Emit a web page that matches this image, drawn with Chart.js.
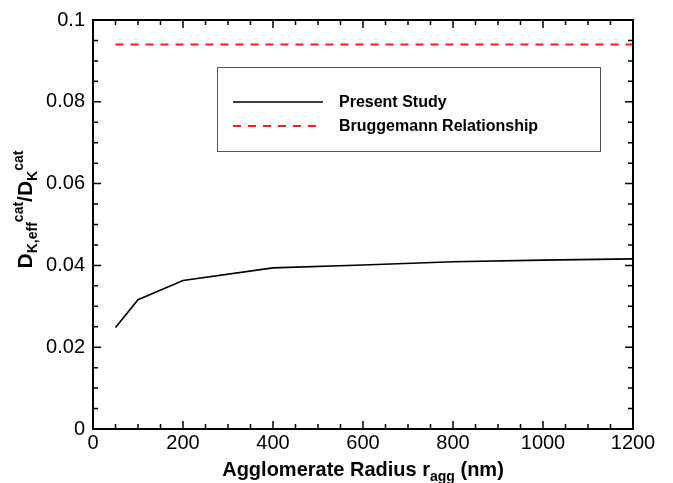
<!DOCTYPE html>
<html>
<head>
<meta charset="utf-8">
<script src="https://cdn.jsdelivr.net/npm/chart.js@4/dist/chart.umd.min.js"></script>
<style>
  html, body { margin: 0; padding: 0; background: #fff; }
  #wrap { width: 673px; height: 483px; }
</style>
</head>
<body>
<div id="wrap"><canvas id="chart" width="673" height="483"></canvas></div>
<script>
// values
const radius = [50, 100, 200, 400, 600, 800, 1000, 1200];
const presentStudy = [0.0248, 0.0316, 0.0363, 0.0394, 0.0401, 0.0409, 0.0413, 0.0416];
const bruggemannX = [50, 1200];
const bruggemannY = [0.094, 0.094];
const xTicks = [0, 200, 400, 600, 800, 1000, 1200];
const yTicks = [0, 0.02, 0.04, 0.06, 0.08, 0.1];

const FONT = 'Arial, "Liberation Sans", Helvetica, sans-serif';

const toPoints = (xs, ys) => xs.map((x, i) => ({ x: x, y: ys[i] }));

// draws text pieces with sub/superscripts, starting at (x, y) baseline
function drawRich(ctx, parts, x, y) {
  parts.forEach(p => {
    const size = p.s ? 14 : p.size;
    ctx.font = 'bold ' + size + 'px ' + FONT;
    const dy = p.s === 'sub' ? 5 : p.s === 'sup' ? -9 : 0;
    ctx.fillText(p.t, x, y + dy);
    x += ctx.measureText(p.t).width;
  });
}
function richWidth(ctx, parts) {
  let w = 0;
  parts.forEach(p => {
    ctx.font = 'bold ' + (p.s ? 14 : p.size) + 'px ' + FONT;
    w += ctx.measureText(p.t).width;
  });
  return w;
}

const framePlugin = {
  id: 'frame',
  afterDraw(chart) {
    const { ctx, chartArea: a, scales } = chart;
    const xs = scales.x, ys = scales.y;
    ctx.save();
    ctx.strokeStyle = '#000';

    // minor + major ticks pointing inwards on all four sides
    ctx.lineWidth = 1.5;
    ctx.beginPath();
    for (let v = 0; v <= 1200; v += 50) {
      const px = xs.getPixelForValue(v);
      const len = v % 200 === 0 ? 8 : 5;
      ctx.moveTo(px, a.bottom); ctx.lineTo(px, a.bottom - len);
      ctx.moveTo(px, a.top); ctx.lineTo(px, a.top + len);
    }
    for (let i = 0; i <= 20; i++) {
      const py = ys.getPixelForValue(i * 0.005);
      const len = i % 4 === 0 ? 8 : 5;
      ctx.moveTo(a.left, py); ctx.lineTo(a.left + len, py);
      ctx.moveTo(a.right, py); ctx.lineTo(a.right - len, py);
    }
    ctx.stroke();

    ctx.lineWidth = 2;
    ctx.strokeRect(a.left, a.top, a.right - a.left, a.bottom - a.top);

    // legend box
    ctx.lineWidth = 1;
    ctx.strokeStyle = '#555';
    ctx.strokeRect(217.5, 67.5, 383, 84);
    const rows = [102, 126];
    chart.data.datasets.forEach((ds, i) => {
      ctx.beginPath();
      ctx.strokeStyle = ds.borderColor;
      ctx.lineWidth = ds.borderWidth;
      ctx.setLineDash(ds.borderDash || []);
      ctx.moveTo(233, rows[i]); ctx.lineTo(323, rows[i]);
      ctx.stroke();
      ctx.setLineDash([]);
      ctx.fillStyle = '#000';
      ctx.font = 'bold 16px ' + FONT;
      ctx.textBaseline = 'middle';
      ctx.textAlign = 'left';
      ctx.fillText(ds.label, 339, rows[i] + 1);
    });

    // axis titles
    ctx.fillStyle = '#000';
    ctx.textBaseline = 'alphabetic';
    ctx.textAlign = 'left';
    const xTitle = [
      { t: 'Agglomerate Radius r', size: 20 },
      { t: 'agg', s: 'sub' },
      { t: ' (nm)', size: 20 }
    ];
    const xw = richWidth(ctx, xTitle);
    drawRich(ctx, xTitle, (a.left + a.right) / 2 - xw / 2, 476);

    const yTitle = [
      { t: 'D', size: 21 },
      { t: 'K,eff', s: 'sub' },
      { t: 'cat', s: 'sup' },
      { t: '/D', size: 21 },
      { t: 'K', s: 'sub' },
      { t: 'cat', s: 'sup' }
    ];
    const yw = richWidth(ctx, yTitle);
    ctx.translate(32, (a.top + a.bottom) / 2 - 15);
    ctx.rotate(-Math.PI / 2);
    drawRich(ctx, yTitle, -yw / 2, 0);
    ctx.restore();
  }
};

new Chart(document.getElementById('chart'), {
  type: 'scatter',
  data: {
    datasets: [
      {
        label: 'Present Study',
        data: toPoints(radius, presentStudy),
        showLine: true,
        borderColor: '#000',
        borderWidth: 1.6,
        pointRadius: 0,
        tension: 0
      },
      {
        label: 'Bruggemann Relationship',
        data: toPoints(bruggemannX, bruggemannY),
        showLine: true,
        borderColor: '#ff1a1a',
        borderWidth: 2,
        borderDash: [8, 7],
        pointRadius: 0
      }
    ]
  },
  options: {
    responsive: false,
    animation: false,
    layout: { padding: { top: 13, right: 40, left: 0, bottom: 0 } },
    plugins: {
      legend: { display: false },
      tooltip: { enabled: false }
    },
    scales: {
      x: {
        type: 'linear',
        min: 0,
        max: 1200,
        afterBuildTicks: s => { s.ticks = xTicks.map(v => ({ value: v })); },
        afterFit: s => { s.height = 54; },
        grid: { display: false, drawTicks: false },
        border: { display: false },
        ticks: {
          padding: 2,
          color: '#000',
          font: { family: FONT, size: 20 },
          callback: v => String(v)
        }
      },
      y: {
        type: 'linear',
        min: 0,
        max: 0.1,
        afterBuildTicks: s => { s.ticks = yTicks.map(v => ({ value: v })); },
        afterFit: s => { s.width = 93; },
        grid: { display: false, drawTicks: false },
        border: { display: false },
        ticks: {
          padding: 8,
          color: '#000',
          font: { family: FONT, size: 20 },
          callback: v => String(+v.toFixed(3))
        }
      }
    }
  },
  plugins: [framePlugin]
});
</script>
</body>
</html>
